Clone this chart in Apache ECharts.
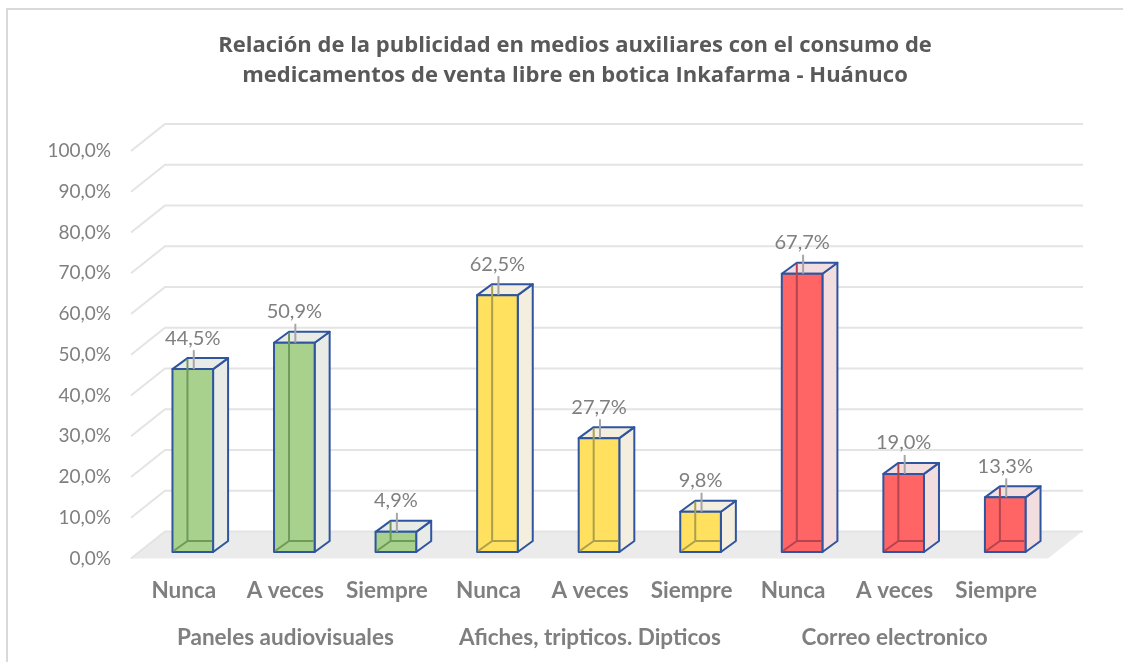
<!DOCTYPE html>
<html>
<head>
<meta charset="utf-8">
<script src="https://cdn.jsdelivr.net/npm/echarts@6/dist/echarts.min.js"></script>
<style>
    html, body {margin: 0; padding: 0; background: #fff;}
    #chart {width: 1123px; height: 662px;}
</style>
</head>
<body>
<div id="chart"></div>
<script>
// datos
var categories = ['Nunca', 'A veces', 'Siempre', 'Nunca', 'A veces', 'Siempre', 'Nunca', 'A veces', 'Siempre'];
var groups = ['Paneles audiovisuales', 'Afiches, tripticos. Dipticos', 'Correo electronico'];
var values = [44.5, 50.9, 4.9, 62.5, 27.7, 9.8, 67.7, 19.0, 13.3];
var yTicks = [0, 10, 20, 30, 40, 50, 60, 70, 80, 90, 100];

// colores por grupo: frente, lado, arista oculta
var frontColors = ['#A9D18E', '#FFE15F', '#FF6565'];
var sideColors = ['#E8EBE6', '#F3EEDE', '#F3DEDF'];
var hiddenColors = ['#6E9B5A', '#ABA04E', '#B54450'];
var edgeColor = '#2F55A0';
var textGray = '#7F7F7F';
var font = 'Lato, "Noto Sans", sans-serif';

// profundidad (efecto 3D)
var WALL_DX = 34, WALL_DY = -27;
var BAR_DX = 15, BAR_DY = -11;

function fmt(v) {
    return v.toFixed(1).replace('.', ',') + '%';
}

/*
 * pared y piso
 * */
function renderWall(params, api) {
    var p = api.coord([0, api.value(1)]);
    var x0 = params.coordSys.x - 2;
    var x1 = params.coordSys.x + params.coordSys.width + 2;
    return {
        type: 'polyline',
        shape: {points: [[x0, p[1]], [x0 + WALL_DX, p[1] + WALL_DY], [x1 + WALL_DX, p[1] + WALL_DY]]},
        style: {stroke: '#E4E4E4', lineWidth: 2, fill: null},
        silent: true
    };
}

function renderFloor(params, api) {
    var y = api.coord([0, 0])[1];
    var x0 = params.coordSys.x - 3;
    var x1 = params.coordSys.x + params.coordSys.width + 1;
    return {
        type: 'polygon',
        shape: {points: [[x0, y], [x0 + WALL_DX, y + WALL_DY], [x1 + WALL_DX, y + WALL_DY], [x1, y]]},
        style: {fill: '#EBEBEB'},
        silent: true
    };
}

/*
 * barra 3D
 * */
function renderBar(params, api) {
    var i = api.value(0);
    var v = api.value(1);
    var g = Math.floor(i / 3);
    var base = api.coord([i, 0]);
    var top = api.coord([i, v]);
    var bw = api.size([1, 0])[0] * 0.4;
    var x0 = base[0] - bw / 2, x1 = base[0] + bw / 2;
    var yb = base[1], yt = top[1];
    var dx = BAR_DX, dy = BAR_DY;
    var line = {stroke: edgeColor, lineWidth: 2, lineJoin: 'round'};

    return {
        type: 'group',
        children: [
            {
                type: 'polygon',
                shape: {points: [[x1, yb], [x1 + dx, yb + dy], [x1 + dx, yt + dy], [x1, yt]]},
                style: Object.assign({fill: sideColors[g]}, line)
            },
            {
                type: 'polygon',
                shape: {points: [[x0, yt], [x0 + dx, yt + dy], [x1 + dx, yt + dy], [x1, yt]]},
                style: Object.assign({fill: sideColors[g]}, line)
            },
            {
                type: 'rect',
                shape: {x: x0, y: yt, width: bw, height: yb - yt},
                style: Object.assign({fill: frontColors[g]}, line)
            },
            {
                type: 'polyline',
                shape: {points: [[x0 + 1, yb - 1], [x0 + dx, yb + dy], [x0 + dx, yt + dy + 1]]},
                style: {stroke: hiddenColors[g], lineWidth: 2, fill: null}
            },
            {
                type: 'line',
                shape: {x1: x0 + dx, y1: yb + dy, x2: x1 - 1, y2: yb + dy},
                style: {stroke: hiddenColors[g], lineWidth: 2}
            },
            {
                type: 'line',
                shape: {x1: base[0] + 1, y1: yt - 19, x2: base[0] + 1, y2: yt},
                style: {stroke: '#A6A6A6', lineWidth: 2}
            },
            {
                type: 'text',
                x: base[0],
                y: yt - 31,
                style: {
                    text: fmt(v),
                    align: 'center',
                    verticalAlign: 'middle',
                    fill: textGray,
                    font: '20px ' + font
                }
            }
        ]
    };
}

var chart = echarts.init(document.getElementById('chart'));

var option = {
    backgroundColor: '#fff',
    animation: false,
    title: {
        text: 'Relación de la publicidad en medios auxiliares con el consumo de\nmedicamentos de venta libre en botica Inkafarma - Huánuco',
        left: 570,
        textAlign: 'center',
        top: 26,
        textStyle: {
            fontFamily: '"Open Sans", sans-serif',
            fontSize: 22,
            fontWeight: 'bold',
            color: '#595959',
            lineHeight: 30
        }
    },
    graphic: [
        {
            type: 'rect',
            shape: {x: 7, y: 9, width: 1200, height: 700},
            style: {fill: null, stroke: '#D9D9D9', lineWidth: 2},
            silent: true
        }
    ],
    grid: [
        {left: 133, top: 151, width: 914, height: 407.5},
        {left: 142, top: 141, width: 914, height: 411}
    ],
    xAxis: [
        {
            gridIndex: 0,
            type: 'category',
            data: categories,
            axisLine: {show: false},
            axisTick: {show: false},
            axisLabel: {
                interval: 0,
                hideOverlap: false,
                margin: 21,
                color: textGray,
                fontFamily: font,
                fontSize: 22.5,
                fontWeight: 'bold'
            }
        },
        {
            gridIndex: 1,
            type: 'category',
            data: categories,
            show: false
        },
        {
            gridIndex: 0,
            type: 'category',
            data: groups,
            position: 'bottom',
            offset: 47,
            axisLine: {show: false},
            axisTick: {show: false},
            axisLabel: {
                interval: 0,
                hideOverlap: false,
                margin: 21,
                color: textGray,
                fontFamily: font,
                fontSize: 22.5,
                fontWeight: 'bold'
            }
        }
    ],
    yAxis: [
        {
            gridIndex: 0,
            type: 'value',
            min: 0,
            max: 100,
            interval: 10,
            splitLine: {show: false},
            axisLine: {show: false},
            axisTick: {show: false},
            axisLabel: {
                margin: 22,
                color: textGray,
                fontFamily: font,
                fontSize: 19,
                formatter: fmt
            }
        },
        {
            gridIndex: 1,
            type: 'value',
            min: 0,
            max: 100,
            show: false
        }
    ],
    series: [
        {
            type: 'custom',
            name: 'piso',
            xAxisIndex: 0,
            yAxisIndex: 0,
            z: 1,
            renderItem: renderFloor,
            data: [[0, 0]]
        },
        {
            type: 'custom',
            name: 'pared',
            xAxisIndex: 0,
            yAxisIndex: 0,
            z: 1,
            renderItem: renderWall,
            data: yTicks.map(function (t) { return [0, t]; })
        },
        {
            type: 'custom',
            name: 'barras',
            xAxisIndex: 1,
            yAxisIndex: 1,
            z: 3,
            renderItem: renderBar,
            encode: {x: 0, y: 1},
            data: values.map(function (v, i) { return [i, v]; })
        }
    ]
};

chart.setOption(option);
</script>
</body>
</html>
